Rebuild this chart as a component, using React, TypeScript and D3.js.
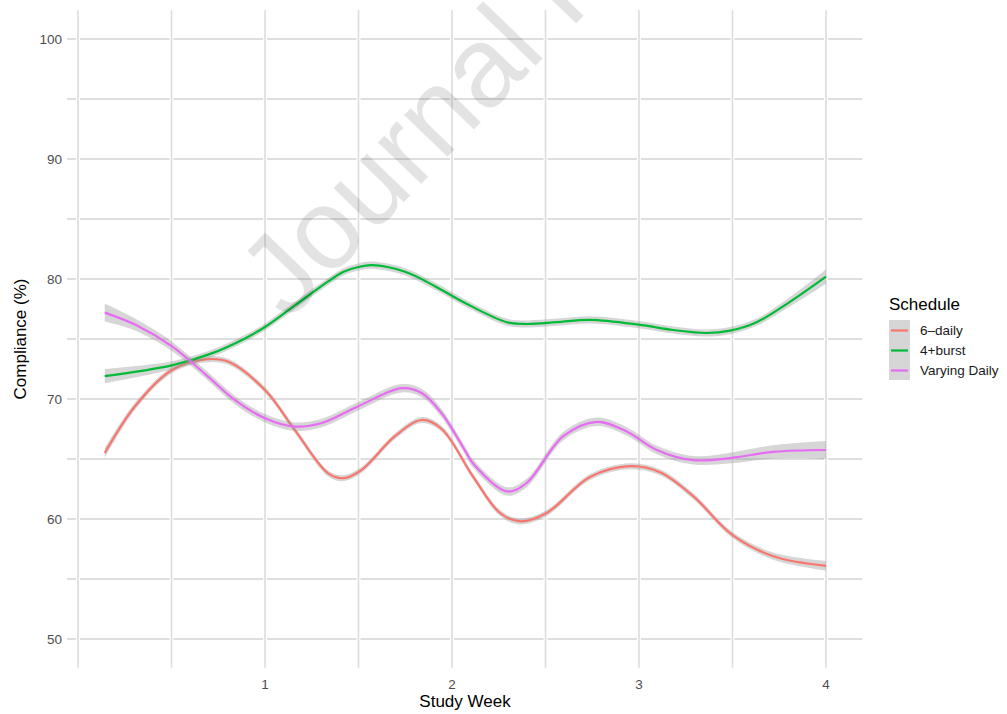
import React from 'react';
import * as d3 from 'd3';

// ---- data ----
const weeksRed = [0.143, 0.305, 0.501, 0.679, 0.804, 1.0, 1.16, 1.338, 1.419, 1.517, 1.695, 1.838, 1.945, 2.114, 2.257, 2.364, 2.506, 2.738, 2.952, 3.112, 3.29, 3.497, 3.718, 4.0];
const valuesRed = [65.5, 69.4, 72.4, 73.3, 73.1, 70.75, 67.4, 63.8, 63.4, 64.1, 66.9, 68.25, 67.5, 63.5, 60.5, 59.8, 60.5, 63.5, 64.4, 63.9, 61.9, 58.7, 56.9, 56.1];
const seRed = [0.4, 0.3, 0.25, 0.25, 0.25, 0.25, 0.25, 0.25, 0.25, 0.25, 0.25, 0.25, 0.25, 0.25, 0.25, 0.25, 0.25, 0.25, 0.25, 0.25, 0.25, 0.25, 0.3, 0.4];

const weeksGreen = [0.143, 0.501, 0.715, 0.893, 1.0, 1.16, 1.338, 1.42, 1.499, 1.571, 1.749, 1.909, 2.07, 2.293, 2.399, 2.56, 2.738, 2.998, 3.183, 3.362, 3.487, 3.629, 3.807, 4.0];
const valuesGreen = [71.9, 72.8, 73.8, 75.05, 76.0, 77.8, 79.8, 80.6, 81.0, 81.15, 80.6, 79.4, 78.0, 76.4, 76.25, 76.4, 76.6, 76.2, 75.75, 75.5, 75.7, 76.4, 78.1, 80.2];
const seGreen = [0.6, 0.35, 0.3, 0.3, 0.3, 0.3, 0.3, 0.3, 0.3, 0.3, 0.3, 0.3, 0.3, 0.3, 0.3, 0.3, 0.3, 0.3, 0.3, 0.3, 0.3, 0.3, 0.4, 0.6];

const weeksMagenta = [0.143, 0.305, 0.501, 0.679, 0.84, 1.0, 1.16, 1.303, 1.499, 1.731, 1.838, 1.945, 2.07, 2.114, 2.293, 2.399, 2.595, 2.774, 2.934, 3.095, 3.29, 3.497, 3.718, 4.0];
const valuesMagenta = [77.2, 76.2, 74.4, 72.1, 69.9, 68.4, 67.7, 68.0, 69.4, 70.9, 70.5, 68.8, 65.7, 64.6, 62.3, 63.0, 66.9, 68.1, 67.3, 65.75, 64.9, 65.1, 65.6, 65.75];
const seMagenta = [0.75, 0.5, 0.4, 0.35, 0.35, 0.35, 0.35, 0.35, 0.35, 0.35, 0.35, 0.35, 0.35, 0.35, 0.35, 0.35, 0.35, 0.35, 0.35, 0.35, 0.35, 0.45, 0.55, 0.75];

const seriesNames = ['6\u2013daily', '4+burst', 'Varying Daily'];
const seriesColors = ['#F8766D', '#00BA38', '#E76BF3'];

const yTicks = [50, 60, 70, 80, 90, 100];
const yGrid = [50, 55, 60, 65, 70, 75, 80, 85, 90, 95, 100];
const xTicks = [1, 2, 3, 4];
const xGrid = [0, 0.5, 1, 1.5, 2, 2.5, 3, 3.5, 4];

type Pt = { w: number; v: number; se: number };

function zipSeries(w: number[], v: number[], se: number[]): Pt[] {
  return w.map((wk, i) => ({ w: wk, v: v[i], se: se[i] }));
}

export default function App() {
  const x = d3.scaleLinear().domain([0, 4]).range([78, 826]);
  const y = d3.scaleLinear().domain([50, 100]).range([639, 39]);
  const panelLeft = x(-0.058);
  const panelRight = x(4.193);
  const panelTop = y(102.4);
  const panelBottom = y(47.6);

  const series = [
    zipSeries(weeksRed, valuesRed, seRed),
    zipSeries(weeksGreen, valuesGreen, seGreen),
    zipSeries(weeksMagenta, valuesMagenta, seMagenta),
  ];

  const curve = d3.curveCatmullRom.alpha(0.5);
  const line = d3
    .line<Pt>()
    .x((d) => x(d.w))
    .y((d) => y(d.v))
    .curve(curve);
  const area = d3
    .area<Pt>()
    .x((d) => x(d.w))
    .y0((d) => y(d.v - d.se))
    .y1((d) => y(d.v + d.se))
    .curve(curve);

  const font = '"Liberation Sans", Arial, Helvetica, sans-serif';

  return (
    <svg
      width={1007}
      height={714}
      style={{ position: 'absolute', left: 0, top: 0, background: '#fff' }}
      fontFamily={font}
    >
      <rect x={0} y={0} width={1007} height={714} fill="#fff" />
      {/* horizontal grid */}
      {yGrid.map((v) => (
        <line key={'h' + v} x1={panelLeft} x2={panelRight} y1={y(v)} y2={y(v)} stroke="#d3d3d3" strokeWidth={1.7} />
      ))}
      {/* vertical grid with white halo */}
      {xGrid.map((w) => (
        <g key={'v' + w}>
          <line x1={x(w)} x2={x(w)} y1={panelTop} y2={panelBottom} stroke="#fff" strokeWidth={4} />
          <line x1={x(w)} x2={x(w)} y1={panelTop} y2={panelBottom} stroke="#dcdcdc" strokeWidth={1.6} />
        </g>
      ))}
      {/* smooths */}
      {series.map((s, i) => (
        <g key={'s' + i}>
          <path d={area(s) || ''} fill="#999999" fillOpacity={0.4} stroke="none" />
          <path d={line(s) || ''} fill="none" stroke={seriesColors[i]} strokeWidth={2.2} />
        </g>
      ))}
      {/* y tick labels */}
      {yTicks.map((v) => (
        <text key={'yt' + v} x={62} y={y(v)} dy="0.36em" textAnchor="end" fontSize={13.5} fill="#4d4d4d">
          {v}
        </text>
      ))}
      {/* x tick labels */}
      {xTicks.map((w) => (
        <text key={'xt' + w} x={x(w)} y={689} textAnchor="middle" fontSize={13.5} fill="#4d4d4d">
          {w}
        </text>
      ))}
      {/* axis titles */}
      <text x={x(2) + 13} y={707} textAnchor="middle" fontSize={17} fill="#000">
        Study Week
      </text>
      <text transform={`translate(26, ${y(75)}) rotate(-90)`} textAnchor="middle" fontSize={17} fill="#000">
        Compliance (%)
      </text>
      {/* legend */}
      <text x={889} y={310} fontSize={17} fill="#000">
        Schedule
      </text>
      {seriesNames.map((name, i) => {
        const ky = 320 + i * 20;
        return (
          <g key={'lg' + i}>
            <rect x={889} y={ky} width={21} height={20} fill="#999999" fillOpacity={0.4} />
            <line x1={891} x2={908} y1={ky + 10.5} y2={ky + 10.5} stroke={seriesColors[i]} strokeWidth={2.2} />
            <text x={920} y={ky + 10.5} dy="0.36em" fontSize={13.5} fill="#1a1a1a">
              {name}
            </text>
          </g>
        );
      })}
      {/* watermark */}
      <text
        transform="translate(288, 322) rotate(-46)"
        fontSize={114}
        fill="#000"
        fillOpacity={0.11}
      >
        Journal Pre-proof
      </text>
    </svg>
  );
}
